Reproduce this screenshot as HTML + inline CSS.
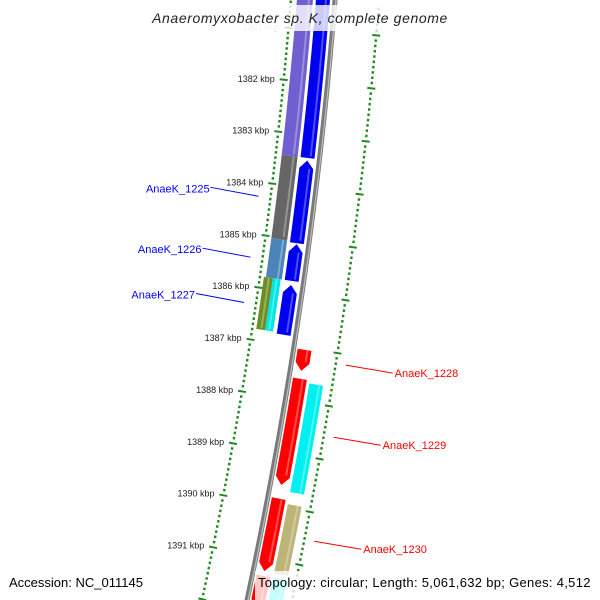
<!DOCTYPE html>
<html><head><meta charset="utf-8"><style>
html,body{margin:0;padding:0;background:#fff;width:600px;height:600px;overflow:hidden}
svg{display:block;font-family:"Liberation Sans",sans-serif;overflow:hidden}
</style></head><body>
<svg id="map" width="600" height="600" viewBox="0 0 600 600" xmlns="http://www.w3.org/2000/svg">
<defs><clipPath id="frame"><rect x="0" y="0" width="600" height="600"/></clipPath></defs>
<g clip-path="url(#frame)">
<g id="ticks"></g>
<g id="features"></g>
<g id="labels"></g>
</g>
<rect x="146" y="5" width="308" height="26" fill="#fff" fill-opacity="0.8"/>
<text x="300" y="23" text-anchor="middle" font-size="14" font-style="italic" fill="#222" letter-spacing="0.6">Anaeromyxobacter sp. K, complete genome</text>
<text x="9" y="587" font-size="13" fill="#000">Accession: NC_011145</text>
<rect x="255" y="571" width="339" height="29" fill="#fff" fill-opacity="0.78"/>
<text x="258" y="587" font-size="13" fill="#000" letter-spacing="0.3">Topology: circular; Length: 5,061,632 bp; Genes: 4,512</text>
</svg>
<script>
const tickKbp = [1381,1382,1383,1384,1385,1386,1387,1388,1389,1390,1391];
const tickLabels = ["1381 kbp","1382 kbp","1383 kbp","1384 kbp","1385 kbp","1386 kbp","1387 kbp","1388 kbp","1389 kbp","1390 kbp","1391 kbp"];
const featStart = [1380.2,1383.55,1385.15,1385.9,1385.9,1380.2,1383.6,1385.2,1385.98,1387.15,1387.7,1389.98,1391.45,1387.76,1390.05,1391.45];
const featEnd   = [1383.55,1385.15,1385.9,1386.9,1386.9,1383.55,1385.18,1385.9,1386.93,1387.55,1389.72,1391.36,1392.3,1389.82,1391.36,1392.3];
const featTrack = ["L2","L2","L2","L2a","L2b","L1","L1","L1","L1","R1","R1","R1","R1","R2","R2","R2"];
const featDir   = [0,0,0,0,0,0,-1,-1,-1,1,1,1,1,0,0,0];
const featColor = ["#6f5fd0","#666666","#4a84b8","#6b8e23","#00e5e5","#0000f0","#0000f0","#0000f0","#0000f0","#ff0000","#ff0000","#ff0000","#ff0000","#00f0f0","#bdb477","#00f0f0"];
const labelNames = ["AnaeK_1225","AnaeK_1226","AnaeK_1227","AnaeK_1228","AnaeK_1229","AnaeK_1230"];
const labelFeat  = [1,2,3,9,10,11];

const NS="http://www.w3.org/2000/svg";
function xb(y){return 335-0.08*y-1.11e-4*y*y;}
function slope(y){return 0.08+2.22e-4*y;}
function yb(k){return 84+(k-1382)*52.45;}
function yf(k){return yb(k)-6;}
function pt(y,off){const s=slope(y),n=Math.sqrt(1+s*s);return [xb(y)+off/n, y+off*s/n];}
const tracks={L1:[-19,-5],L2:[-38,-22],L2a:[-40,-31],L2b:[-31,-23],R1:[4,18],R2:[21,35]};
function mk(tag,attrs,parent){const e=document.createElementNS(NS,tag);for(const k in attrs)e.setAttribute(k,attrs[k]);parent.appendChild(e);return e;}

const bbG=document.getElementById('features');
let bb=[];for(let y=-10;y<=605;y+=5){bb.push(pt(y,0).join(','));}
const bbl=mk('polyline',{points:bb.join(' '),fill:'none',stroke:'#7a7a7a','stroke-width':5},bbG);


let bb2=[];for(let y=-10;y<=605;y+=5){bb2.push(pt(y,1).join(','));}
const bbh=mk('polyline',{points:bb2.join(' '),fill:'none',stroke:'#bdbdbd','stroke-width':1.2},bbG);



for(let i=0;i<featStart.length;i++){
  const [o1,o2]=tracks[featTrack[i]];
  let a=yf(featStart[i]), b=Math.min(yf(featEnd[i]),606);
  const d=featDir[i], ah=8;
  const bodyA = d<0? a+ah : a, bodyB = d>0? b-ah : b;
  let left=[],right=[];
  for(let y=bodyA;y<bodyB;y+=3){left.push(pt(y,o1));right.push(pt(y,o2));}
  left.push(pt(bodyB,o1));right.push(pt(bodyB,o2));
  let pts=[];
  if(d<0) pts.push(pt(a,(o1+o2)/2));
  pts=pts.concat(left);
  if(d>0) pts.push(pt(b,(o1+o2)/2));
  pts=pts.concat(right.reverse());
  const p=mk('polygon',{points:pts.map(q=>q.join(',')).join(' '),fill:featColor[i]},bbG);
  
  
  let hs=[];for(let y=bodyA;y<bodyB;y+=3){hs.push(pt(y,o2-4).join(','));}
  const h=mk('polyline',{points:hs.join(' '),fill:'none',stroke:'#fff','stroke-opacity':0.3,'stroke-width':2},bbG);
  
  
}

const tg=document.getElementById('ticks');
for(let k=1380.5;k<=1392.3;k+=0.1){
  const kr=Math.round(k*10)/10;
  const major=Math.abs(kr-Math.round(kr))<1e-6;
  const y=yb(kr);
  [-44,44].forEach(off=>{
    const len=major?4:1.2;
    const p1=pt(y,off-len),p2=pt(y,off+len);
    const l=mk('line',{x1:p1[0],y1:p1[1],x2:p2[0],y2:p2[1],stroke:'#1e8a1e','stroke-width':major?2:2.5},tg);
    
    
  });
}
for(let i=0;i<tickKbp.length;i++){
  const p=pt(yb(tickKbp[i]),-53);
  const t=mk('text',{x:p[0],y:p[1]+3,'text-anchor':'end','font-size':9,fill:i===0?'#bbb':'#222'},tg);
  t.textContent=tickLabels[i];
  
  
}

const lg=document.getElementById('labels');
for(let i=0;i<labelNames.length;i++){
  const f=labelFeat[i];
  const [o1]=tracks[featTrack[f]];
  const left=o1<0;
  const ym=(yf(featStart[f])+yf(featEnd[f]))/2 + (left? 2 : -2);
  const target=pt(ym, left? -56 : 54);
  const tx = left? target[0]-48 : target[0]+47;
  const ty = target[1]-8*(left?1:-1);
  const col= left? '#0000ff':'#ff0000';
  const l=mk('line',{x1:target[0],y1:target[1],x2:tx,y2:ty+(left?-1:0),stroke:col,'stroke-width':1},lg);
  
  
  const t=mk('text',{x:left?tx-1:tx+2,y:ty+4,'text-anchor':left?'end':'start','font-size':11,fill:col},lg);
  t.textContent=labelNames[i];
  
  
}
</script>
</body></html>
